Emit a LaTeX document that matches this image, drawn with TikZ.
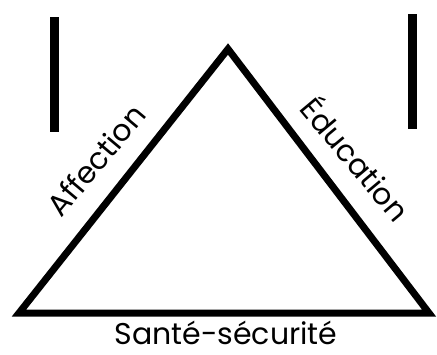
\documentclass[tikz,border=0pt]{standalone}
\usepackage{fontspec}
\setmainfont{Poppins}
\usetikzlibrary{positioning}

\begin{document}
\begin{tikzpicture}[
        x=1pt, y=-1pt,
        side/.style={line width=7pt, line join=miter},
        bar/.style={line width=9pt},
        word/.style={font=\fontsize{30}{33}\selectfont, inner sep=0pt}
    ]
        \useasboundingbox (0,0) rectangle (437,354);

        \coordinate (top) at (228,49);
        \coordinate (left) at (19,313);
        \coordinate (right) at (429,313);

        \draw[side] (left) -- (top) -- (right) -- cycle;

        \draw[bar] (54.5,17) -- (54.5,132);
        \draw[bar] (412,14) -- (412,129);

        \node[word, rotate=50] (affection) at (96,160) {Affection};
        \node[word, rotate=-50] (education) at (357,158) {Éducation};
        \node[word, anchor=base] (sante) at (226,344) {Santé-sécurité};
    \end{tikzpicture}
\end{document}
